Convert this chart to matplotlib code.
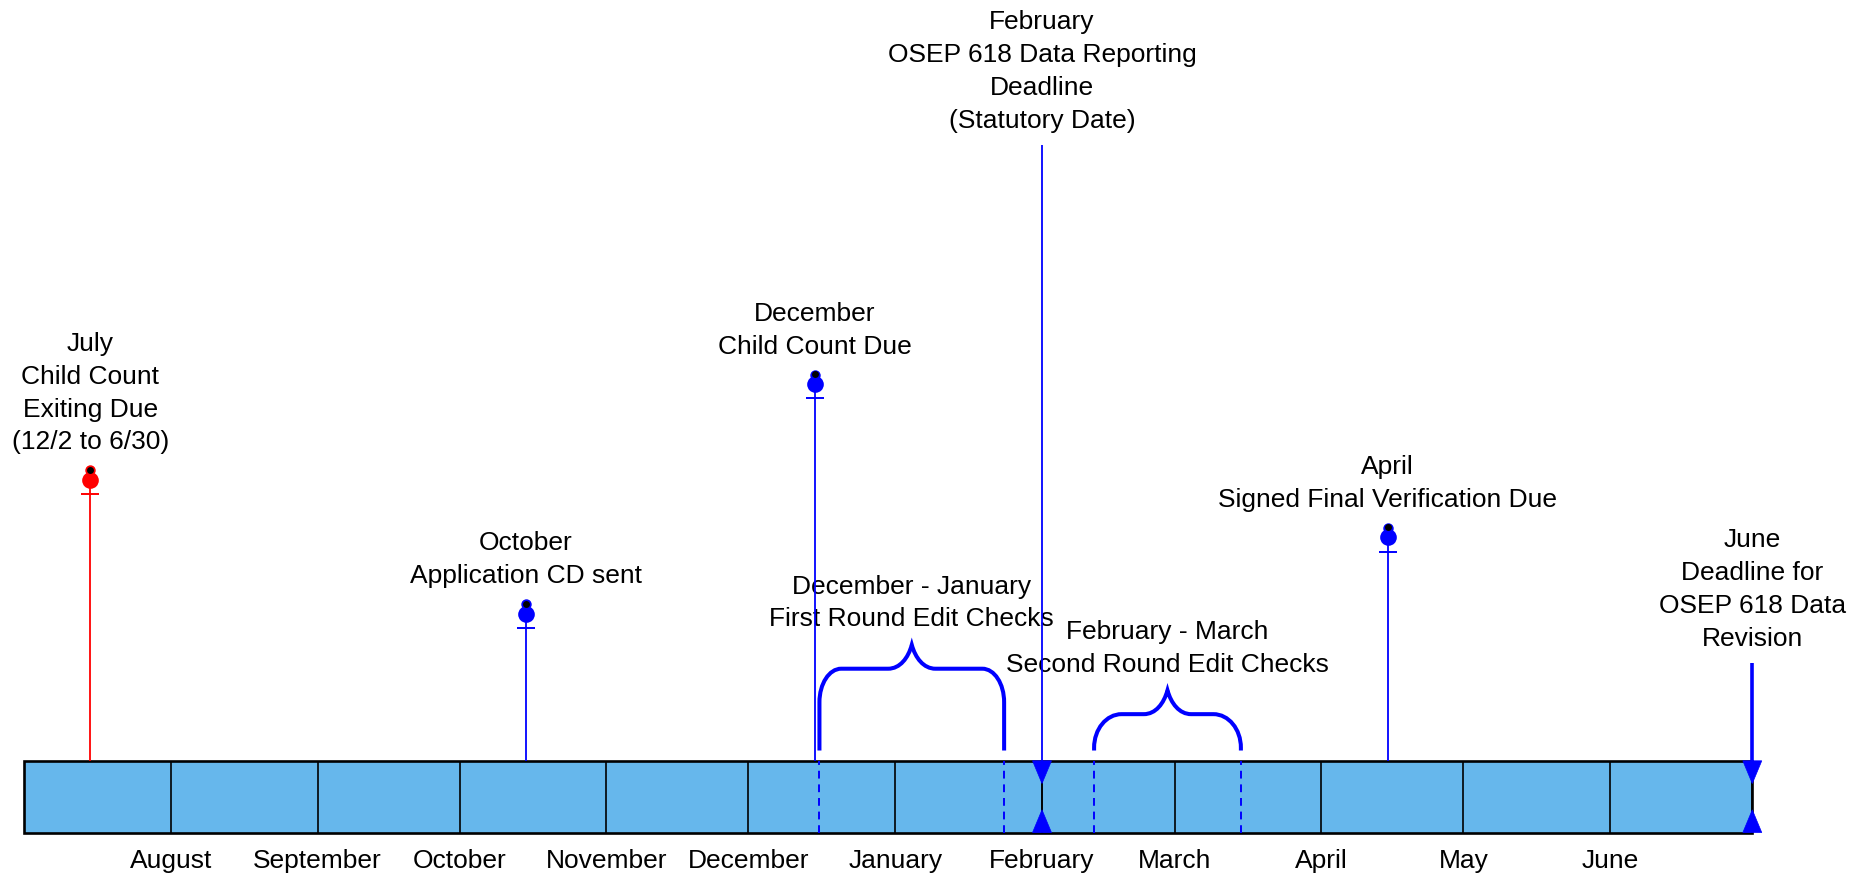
import matplotlib
matplotlib.use("Agg")
import matplotlib.pyplot as plt
import matplotlib.dates as mdates
from matplotlib.path import Path
from matplotlib.patches import PathPatch, Rectangle, Polygon
import pandas as pd

# ---------------- data ----------------
timeline_start = pd.Timestamp("2009-07-01")
timeline_end = pd.Timestamp("2010-07-01")
month_starts = pd.date_range(timeline_start, timeline_end, freq="MS")
month_labels = ["August", "September", "October", "November", "December",
                "January", "February", "March", "April", "May", "June"]

pin_dates = pd.to_datetime(["2009-07-15", "2009-10-15", "2009-12-15", "2010-04-15"])
pin_heights = [235, 123, 315, 187]
pin_labels = ["July\nChild Count\nExiting Due\n(12/2 to 6/30)",
              "October\nApplication CD sent",
              "December\nChild Count Due",
              "April\nSigned Final Verification Due"]
pin_colors = ["#ff0000", "#0000ff", "#0000ff", "#0000ff"]

deadline_dates = pd.to_datetime(["2010-02-01", "2010-07-01"])
deadline_heights = [515, 82]
deadline_labels = ["February\nOSEP 618 Data Reporting\nDeadline\n(Statutory Date)",
                   "June\nDeadline for\nOSEP 618 Data\nRevision"]

brace_starts = pd.to_datetime(["2009-12-16", "2010-02-12"])
brace_ends = pd.to_datetime(["2010-01-24", "2010-03-15"])
brace_heights = [97, 59]
brace_labels = ["December - January\nFirst Round Edit Checks",
                "February - March\nSecond Round Edit Checks"]

# ---------------- style ----------------
BAR_H = 60
BAR_COLOR = "#66b7ec"
BLUE = "#0000ff"
FONT = dict(family=["Liberation Sans", "DejaVu Sans"], size=19, linespacing=1.47)

fig = plt.figure(figsize=(18.74, 8.79), dpi=100)
ax = fig.add_axes([0, 0, 1, 1])
ax.axis("off")

t0 = mdates.date2num(timeline_start)
t1 = mdates.date2num(timeline_end)
ax.set_xlim(t0 - 5.05, t0 + 390.7)
ax.set_ylim(-98, 637)

# timeline bar
ax.add_patch(Rectangle((t0, -BAR_H), t1 - t0, BAR_H, facecolor=BAR_COLOR,
                       edgecolor="black", lw=1.9, zorder=2))
ms = mdates.date2num(month_starts)
ax.vlines(ms[1:-1], -BAR_H, 0, colors="black", lw=1.2, zorder=3)
for m, lab in zip(ms[1:-1], month_labels):
    ax.text(m, -83, lab, ha="center", va="center", **FONT)

# pins
for d, h, lab, c in zip(mdates.date2num(pin_dates), pin_heights, pin_labels, pin_colors):
    ax.plot([d, d], [0, h], color=c, lw=1.3, zorder=4, solid_capstyle="butt")
    ax.plot([d], [h - 12], marker="_", ms=13, mew=1.4, color=c, zorder=5)
    ax.plot([d], [h], marker="o", ms=12, color=c, mew=0, zorder=5)
    ax.plot([d], [h + 8], marker="o", ms=7.5, color=c, mew=0, zorder=6)
    ax.plot([d], [h + 8.5], marker="o", ms=5, color="black", mew=0, zorder=7)
    ax.text(d, h + 22, lab, ha="center", va="bottom", **FONT)

# deadlines (arrow + triangles)
for d, h, lab, lw in zip(mdates.date2num(deadline_dates), deadline_heights,
                         deadline_labels, [1.3, 2.6]):
    ax.plot([d, d], [0, h], color=BLUE, lw=lw, zorder=4, solid_capstyle="butt")
    ax.vlines([d], -BAR_H, 0, colors="black", lw=1.2, zorder=3)
    ax.add_patch(Polygon([(d - 2.0, 0), (d + 2.0, 0), (d, -19)], closed=True,
                         facecolor=BLUE, edgecolor=BLUE, lw=0.5, zorder=6))
    ax.add_patch(Polygon([(d - 2.0, -BAR_H), (d + 2.0, -BAR_H), (d, -BAR_H + 19)],
                         closed=True, facecolor=BLUE, edgecolor=BLUE, lw=0.5, zorder=6))
    ax.text(d, h + 11, lab, ha="center", va="bottom", **FONT)


# braces
def brace_path(x0, x1, b, s, t, rx=4.8, w=5.0, ry_max=28):
    mid = (x0 + x1) / 2
    ry = min(ry_max, s - b)
    k = 0.5523
    verts = [
        (x0, b), (x0, s - ry),
        (x0, s - ry + k * ry), (x0 + rx - k * rx, s), (x0 + rx, s),
        (mid - w, s),
        (mid - 0.5 * w, s), (mid - 0.15 * w, s + 0.45 * (t - s)), (mid, t),
        (mid + 0.15 * w, s + 0.45 * (t - s)), (mid + 0.5 * w, s), (mid + w, s),
        (x1 - rx, s),
        (x1 - rx + k * rx, s), (x1, s - ry + k * ry), (x1, s - ry),
        (x1, b),
    ]
    codes = [Path.MOVETO, Path.LINETO,
             Path.CURVE4, Path.CURVE4, Path.CURVE4,
             Path.LINETO,
             Path.CURVE4, Path.CURVE4, Path.CURVE4,
             Path.CURVE4, Path.CURVE4, Path.CURVE4,
             Path.LINETO,
             Path.CURVE4, Path.CURVE4, Path.CURVE4,
             Path.LINETO]
    return Path(verts, codes)


for xs, xe, t, lab, rx in zip(mdates.date2num(brace_starts), mdates.date2num(brace_ends),
                              brace_heights, brace_labels, [4.6, 5.8]):
    ax.add_patch(PathPatch(brace_path(xs, xe, 8.6, t - 20, t, rx=rx), facecolor="none",
                           edgecolor=BLUE, lw=2.9, zorder=4, capstyle="butt"))
    ax.vlines([xs, xe], -BAR_H, 0, colors=BLUE, lw=1.4, linestyles=(0, (4, 3)), zorder=3)
    ax.text((xs + xe) / 2, t + 12, lab, ha="center", va="bottom", **FONT)

fig.savefig("out.png", dpi=100)
